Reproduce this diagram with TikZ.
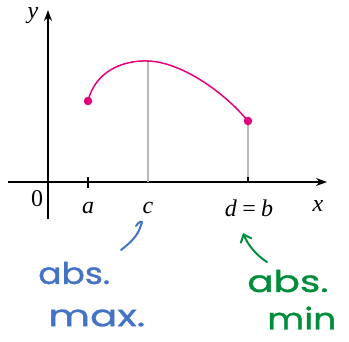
\documentclass[tikz,border=0pt]{standalone}
\usepackage{fontspec}
\setmainfont{Liberation Serif}
\newfontfamily\handfont[FakeBold=1]{Poppins}
\usetikzlibrary{arrows.meta}
\definecolor{curvepink}{RGB}{228,0,124}
\definecolor{handblue}{RGB}{68,114,196}
\definecolor{handgreen}{RGB}{0,140,58}
\definecolor{guidegray}{RGB}{185,185,185}
\tikzset{
  axis/.style={line width=1.2pt, -{Stealth[length=11pt,width=8pt]}},
  guide/.style={guidegray, line width=1.3pt},
  fcurve/.style={curvepink, line width=1.5pt},
  enddot/.style={circle, fill=curvepink, inner sep=0pt, minimum size=8.5pt},
  lbl/.style={font=\fontsize{24}{24}\selectfont\itshape, inner sep=0pt},
  numlbl/.style={font=\fontsize{24}{24}\selectfont, inner sep=0pt},
  handb/.style={handblue, font=\fontsize{30}{34}\selectfont\handfont, inner sep=0pt, transform shape},
  handg/.style={handgreen, font=\fontsize{30}{34}\selectfont\handfont, inner sep=0pt, transform shape},
}
\begin{document}
\begin{tikzpicture}[x=1pt,y=-1pt]
\useasboundingbox (0,0) rectangle (349,341);
% axes
\coordinate (xs) at (8,182);
\coordinate (xe) at (327,182);
\coordinate (ys) at (48,219);
\coordinate (ye) at (48,10);
\draw[axis] (xs) -- (xe);
\draw[axis] (ys) -- (ye);
% points
\coordinate (A) at (88,101);
\coordinate (C) at (148,61);
\coordinate (D) at (248,121);
\coordinate (Ca) at (148,182);
\coordinate (Da) at (248,182);
\coordinate (At) at (88,177);
\coordinate (Ab) at (88,188);
% guides
\draw[guide] (C) -- (Ca);
\draw[guide] (D) -- (Da);
\draw[line width=1.2pt] (At) -- (Ab);
\draw[line width=1.2pt] (248,177) -- (Da);
% curve
\draw[fcurve] (A) .. controls (95,72) and (122,60) .. (C)
  .. controls (180,62) and (222,90) .. (D);
\node[enddot] (dotA) at (A) {};
\node[enddot] (dotD) at (D) {};
% labels
\node[lbl] (ylab) at (33,16) {y};
\node[lbl] (xlab) at (318,206) {x};
\node[numlbl] (zero) at (37,199) {0};
\node[lbl] (alab) at (88,208) {a};
\node[lbl] (clab) at (148,208) {c};
\node[lbl] (dlab) at (249,208) {d\,=\,b};
% handwritten
\node[handb, anchor=west, xscale=1.15] (absb) at (38,273) {abs.};
\node[handb, anchor=west, xscale=1.35] (maxb) at (48,318) {max.};
\node[handg, anchor=west, xscale=1.3] (absg) at (247,281) {abs.};
\node[handg, anchor=west, xscale=1.2] (ming) at (267,318) {min};
\coordinate (bs) at (121,250);
\coordinate (be) at (141,225);
\draw[handblue, line width=2pt, line cap=round] (bs) .. controls (130,243) and (138,236) .. (be)
  .. controls (144,219) and (138,222) .. (136,226);
\coordinate (gs) at (267,262);
\coordinate (ge) at (243,233);
\draw[handgreen, line width=2pt, line cap=round, -{Straight Barb[length=7pt,width=12pt]}] (gs) .. controls (256,255) and (248,245) .. (ge);
\end{tikzpicture}
\end{document}
